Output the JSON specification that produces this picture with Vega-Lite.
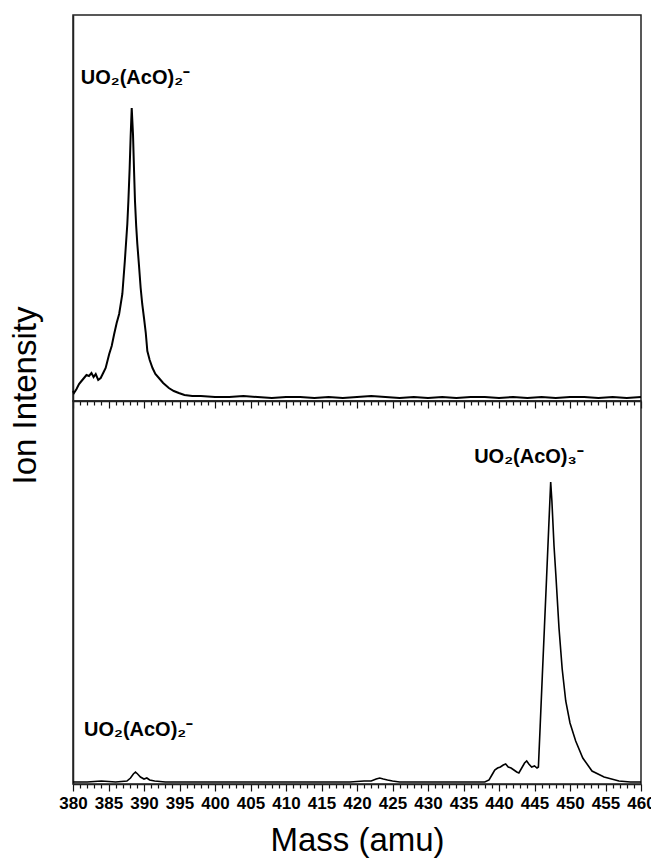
{
  "$schema": "https://vega.github.io/schema/vega-lite/v6.json",
  "padding": {"left": 8, "top": 14, "right": 0, "bottom": 0},
  "spacing": 0,
  "bounds": "flush",
  "config": {
    "font": "Liberation Sans",
    "view": {"stroke": "#222", "strokeWidth": 1.5},
    "axis": {"grid": false}
  },
  "datasets": {
    "top": [
      {"m": 380.0, "i": 10}, {"m": 380.14, "i": 8}, {"m": 380.5, "i": 12}, {"m": 380.85, "i": 17},
      {"m": 381.2, "i": 20}, {"m": 381.55, "i": 23}, {"m": 381.9, "i": 26}, {"m": 382.25, "i": 25},
      {"m": 382.6, "i": 28}, {"m": 382.9, "i": 24}, {"m": 383.2, "i": 27}, {"m": 383.55, "i": 21},
      {"m": 383.9, "i": 23}, {"m": 384.25, "i": 28}, {"m": 384.6, "i": 33}, {"m": 384.85, "i": 40},
      {"m": 385.1, "i": 47}, {"m": 385.45, "i": 55}, {"m": 385.8, "i": 67}, {"m": 386.15, "i": 78},
      {"m": 386.5, "i": 87}, {"m": 386.95, "i": 107}, {"m": 387.3, "i": 140}, {"m": 387.65, "i": 177},
      {"m": 387.8, "i": 200}, {"m": 387.98, "i": 233}, {"m": 388.12, "i": 265}, {"m": 388.27, "i": 293},
      {"m": 388.45, "i": 267}, {"m": 388.6, "i": 230}, {"m": 388.73, "i": 200}, {"m": 388.9, "i": 175},
      {"m": 389.06, "i": 157}, {"m": 389.3, "i": 135}, {"m": 389.53, "i": 113}, {"m": 389.75, "i": 97},
      {"m": 390.0, "i": 83}, {"m": 390.25, "i": 68}, {"m": 390.47, "i": 50}, {"m": 390.8, "i": 41},
      {"m": 391.2, "i": 33}, {"m": 391.6, "i": 27}, {"m": 392.1, "i": 23}, {"m": 392.7, "i": 18},
      {"m": 393.5, "i": 13}, {"m": 394.2, "i": 10}, {"m": 394.9, "i": 8}, {"m": 395.7, "i": 6},
      {"m": 396.8, "i": 5}, {"m": 398, "i": 5}, {"m": 400, "i": 4}, {"m": 402, "i": 4},
      {"m": 404, "i": 5}, {"m": 406, "i": 4}, {"m": 408, "i": 3}, {"m": 410, "i": 4},
      {"m": 412, "i": 4}, {"m": 414, "i": 3}, {"m": 416, "i": 4}, {"m": 418, "i": 3},
      {"m": 420, "i": 4}, {"m": 422, "i": 5}, {"m": 424, "i": 4}, {"m": 426, "i": 3},
      {"m": 428, "i": 4}, {"m": 430, "i": 3}, {"m": 432, "i": 4}, {"m": 434, "i": 3},
      {"m": 436, "i": 4}, {"m": 438, "i": 4}, {"m": 440, "i": 3}, {"m": 442, "i": 4},
      {"m": 444, "i": 3}, {"m": 446, "i": 4}, {"m": 448, "i": 3}, {"m": 450, "i": 4},
      {"m": 452, "i": 4}, {"m": 454, "i": 3}, {"m": 456, "i": 4}, {"m": 458, "i": 3}, {"m": 460, "i": 4}
    ],
    "bottom": [
      {"m": 380, "i": 2}, {"m": 382, "i": 2}, {"m": 384, "i": 3}, {"m": 386, "i": 2},
      {"m": 387.6, "i": 3}, {"m": 388.1, "i": 6}, {"m": 388.5, "i": 10}, {"m": 388.8, "i": 12},
      {"m": 389.1, "i": 10}, {"m": 389.5, "i": 7}, {"m": 390.0, "i": 5}, {"m": 390.4, "i": 6},
      {"m": 390.8, "i": 4}, {"m": 391.5, "i": 3}, {"m": 393, "i": 2}, {"m": 396, "i": 2},
      {"m": 400, "i": 2}, {"m": 405, "i": 2}, {"m": 410, "i": 2}, {"m": 415, "i": 2},
      {"m": 419, "i": 2}, {"m": 421, "i": 3}, {"m": 422, "i": 3}, {"m": 422.7, "i": 5},
      {"m": 423.2, "i": 6}, {"m": 423.7, "i": 5}, {"m": 424.3, "i": 4}, {"m": 425, "i": 3},
      {"m": 426, "i": 2}, {"m": 430, "i": 2}, {"m": 434, "i": 2}, {"m": 437, "i": 2},
      {"m": 438.0, "i": 2}, {"m": 438.6, "i": 4}, {"m": 439.0, "i": 9}, {"m": 439.4, "i": 14},
      {"m": 439.8, "i": 16}, {"m": 440.2, "i": 17}, {"m": 440.6, "i": 19}, {"m": 440.94, "i": 20},
      {"m": 441.3, "i": 17}, {"m": 441.7, "i": 16}, {"m": 442.1, "i": 14}, {"m": 442.5, "i": 12},
      {"m": 442.8, "i": 11}, {"m": 443.2, "i": 16}, {"m": 443.6, "i": 21}, {"m": 443.9, "i": 23},
      {"m": 444.2, "i": 20}, {"m": 444.6, "i": 17}, {"m": 445.0, "i": 18}, {"m": 445.35, "i": 16},
      {"m": 445.55, "i": 17}, {"m": 445.8, "i": 58}, {"m": 446.1, "i": 108}, {"m": 446.4, "i": 157},
      {"m": 446.7, "i": 206}, {"m": 447.0, "i": 256}, {"m": 447.28, "i": 302}, {"m": 447.45, "i": 283},
      {"m": 447.75, "i": 238}, {"m": 448.0, "i": 210}, {"m": 448.45, "i": 156}, {"m": 448.9, "i": 115},
      {"m": 449.4, "i": 83}, {"m": 450.0, "i": 61}, {"m": 450.8, "i": 43}, {"m": 451.8, "i": 26},
      {"m": 453.1, "i": 13}, {"m": 454.8, "i": 7}, {"m": 456.9, "i": 3}, {"m": 458.5, "i": 2}, {"m": 460, "i": 2}
    ],
    "toplabels": [
      {"m": 381.1, "i": 317, "t": "UO₂(AcO)₂⁻"}
    ],
    "bottomlabels": [
      {"m": 381.55, "i": 48, "t": "UO₂(AcO)₂⁻"},
      {"m": 436.5, "i": 321, "t": "UO₂(AcO)₃⁻"}
    ]
  },
  "vconcat": [
    {
      "width": 568,
      "height": 386,
      "encoding": {
        "x": {
          "field": "m", "type": "quantitative",
          "scale": {"domain": [380, 460], "nice": false, "zero": false},
          "axis": {
            "values": [380,381,382,383,384,385,386,387,388,389,390,391,392,393,394,395,396,397,398,399,400,401,402,403,404,405,406,407,408,409,410,411,412,413,414,415,416,417,418,419,420,421,422,423,424,425,426,427,428,429,430,431,432,433,434,435,436,437,438,439,440,441,442,443,444,445,446,447,448,449,450,451,452,453,454,455,456,457,458,459,460],
            "labels": false,
            "title": null,
            "tickSize": {"condition": {"test": "datum.value % 5 === 0", "value": 7}, "value": 4},
            "tickColor": "#111", "tickWidth": 1.2,
            "domainColor": "#222", "domainWidth": 1.5
          }
        },
        "y": {
          "field": "i", "type": "quantitative",
          "scale": {"domain": [0, 386], "nice": false},
          "axis": {
            "title": "Ion Intensity",
            "ticks": false, "labels": false,
            "domainColor": "#222", "domainWidth": 1.5,
            "titleFont": "Liberation Sans", "titleFontSize": 33, "titleFontWeight": "normal", "titleColor": "#000",
            "titleX": -38, "titleY": 380, "titleAngle": -90, "titleAlign": "center", "titleBaseline": "alphabetic"
          }
        }
      },
      "layer": [
        {
          "data": {"name": "top"},
          "mark": {"type": "line", "color": "#000", "strokeWidth": 2}
        },
        {
          "data": {"name": "toplabels"},
          "mark": {"type": "text", "align": "left", "baseline": "alphabetic", "fontSize": 20, "fontWeight": "bold", "color": "#000"},
          "encoding": {"text": {"field": "t"}}
        }
      ]
    },
    {
      "width": 568,
      "height": 383,
      "encoding": {
        "x": {
          "field": "m", "type": "quantitative",
          "scale": {"domain": [380, 460], "nice": false, "zero": false},
          "axis": {
            "values": [380,381,382,383,384,385,386,387,388,389,390,391,392,393,394,395,396,397,398,399,400,401,402,403,404,405,406,407,408,409,410,411,412,413,414,415,416,417,418,419,420,421,422,423,424,425,426,427,428,429,430,431,432,433,434,435,436,437,438,439,440,441,442,443,444,445,446,447,448,449,450,451,452,453,454,455,456,457,458,459,460],
            "labelExpr": "datum.value % 5 === 0 ? datum.label : ''",
            "labelOverlap": false, "labelFlush": false,
            "labelFont": "Liberation Sans", "labelFontWeight": "bold", "labelFontSize": 17, "labelColor": "#000", "labelPadding": 4,
            "tickSize": {"condition": {"test": "datum.value % 5 === 0", "value": 7}, "value": 4},
            "tickColor": "#111", "tickWidth": 1.2,
            "domainColor": "#222", "domainWidth": 1.5,
            "title": "Mass (amu)",
            "titleFont": "Liberation Sans", "titleFontSize": 33, "titleFontWeight": "normal", "titleColor": "#000",
            "titleY": 66, "titleBaseline": "alphabetic"
          }
        },
        "y": {
          "field": "i", "type": "quantitative",
          "scale": {"domain": [0, 383], "nice": false},
          "axis": {"title": null, "ticks": false, "labels": false, "domainColor": "#222", "domainWidth": 1.5}
        }
      },
      "layer": [
        {
          "data": {"name": "bottom"},
          "mark": {"type": "line", "color": "#000", "strokeWidth": 1.6}
        },
        {
          "data": {"name": "bottomlabels"},
          "mark": {"type": "text", "align": "left", "baseline": "alphabetic", "fontSize": 20, "fontWeight": "bold", "color": "#000"},
          "encoding": {"text": {"field": "t"}}
        }
      ]
    }
  ]
}
